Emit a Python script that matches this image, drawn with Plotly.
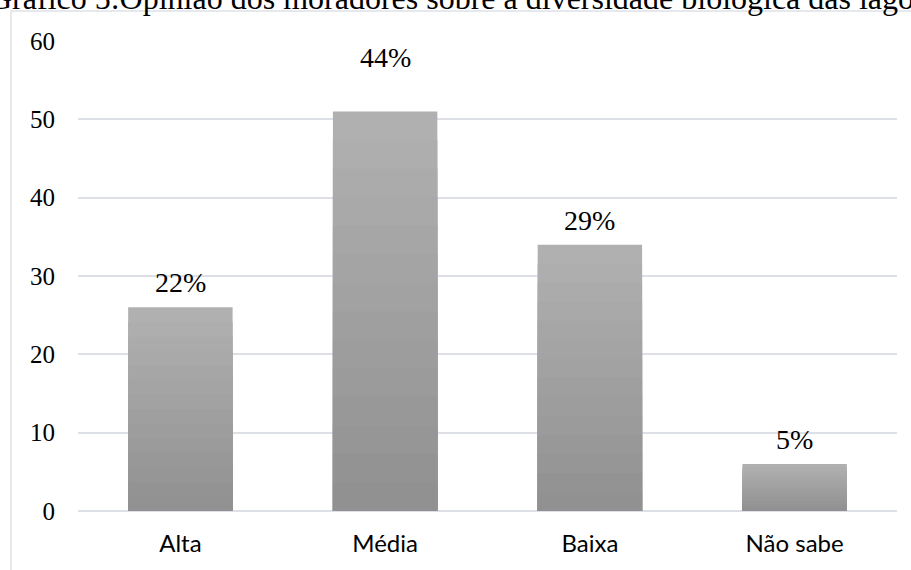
import plotly.graph_objects as go

categories = ["Alta", "Média", "Baixa", "Não sabe"]
counts = [26, 51, 34, 6]
percent_labels = ["22%", "44%", "29%", "5%"]
y_ticks = [0, 10, 20, 30, 40, 50, 60]
title_text = "Gráfico 5:Opinião dos moradores sobre a diversidade biológica das lagoas"

W, H = 911, 570
ML, MR, MT, MB = 78, 14, 41, 59
pw, ph = W - ML - MR, H - MT - MB
SERIF = "Liberation Serif, Times New Roman, serif"

def px_x(p):
    return (p - ML) / pw

def px_y(p):
    return (H - MB - p) / ph

fig = go.Figure()

# vertical gradient fill: overlaid bars from full height down, darker toward the base
top_rgb = (176, 176, 176)
bot_rgb = (145, 145, 145)
steps = 14
for i in range(steps):
    frac = 1 - i / steps
    t = i / (steps - 1)
    c = tuple(round(top_rgb[k] + (bot_rgb[k] - top_rgb[k]) * t) for k in range(3))
    fig.add_trace(go.Bar(
        x=categories,
        y=[v * frac for v in counts],
        marker=dict(color="rgb(%d,%d,%d)" % c, line=dict(width=0)),
        width=0.51,
        hoverinfo="skip",
        showlegend=False,
    ))

label_shift = {"Média": 37}
for cat, v, lab in zip(categories, counts, percent_labels):
    fig.add_annotation(
        x=cat, y=v, xref="x", yref="y",
        text=lab, showarrow=False,
        yanchor="bottom", yshift=label_shift.get(cat, 7),
        font=dict(family=SERIF, size=28, color="#000000"),
    )

fig.add_annotation(
    x=px_x(465), y=px_y(18), xref="paper", yref="paper",
    text=title_text, showarrow=False, xanchor="center", yanchor="bottom",
    font=dict(family=SERIF, size=32, color="#000000"),
)

fig.add_shape(
    type="rect", xref="paper", yref="paper",
    x0=px_x(11), x1=px_x(W + 20), y0=px_y(H + 20), y1=px_y(11),
    line=dict(color="#dde1e7", width=1.5), fillcolor="rgba(0,0,0,0)", layer="below",
)

fig.update_layout(
    width=W, height=H,
    margin=dict(l=ML, r=MR, t=MT, b=MB),
    barmode="overlay",
    plot_bgcolor="white", paper_bgcolor="white",
    showlegend=False,
    xaxis=dict(
        showgrid=False, showline=False, zeroline=False,
        ticks="outside", ticklen=11, tickcolor="rgba(0,0,0,0)",
        tickfont=dict(family="Lato", size=24, color="#000000"),
    ),
    yaxis=dict(
        range=[0, 60], tickvals=y_ticks,
        showgrid=True, gridcolor="#dde1e7", gridwidth=1.5,
        zeroline=True, zerolinecolor="#dde1e7", zerolinewidth=2,
        showline=False,
        ticks="outside", ticklen=17, tickcolor="rgba(0,0,0,0)",
        tickfont=dict(family=SERIF, size=25, color="#000000"),
    ),
)

fig.write_html(
    "out.html",
    config={"displayModeBar": False},
    post_script="document.body.style.margin='0';document.body.style.overflow='hidden';",
)
